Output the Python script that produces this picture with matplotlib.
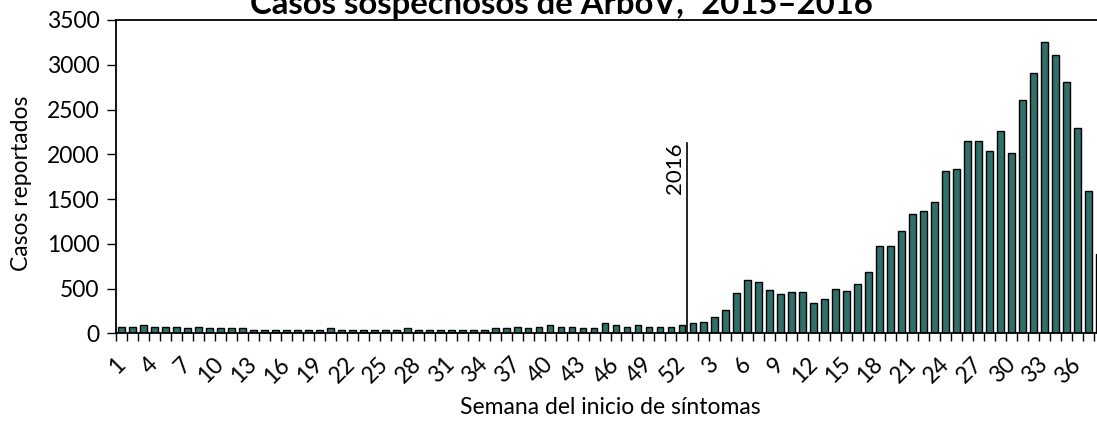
import matplotlib
matplotlib.use('Agg')
import matplotlib.pyplot as plt

# ---- data ----
weeks_2015 = list(range(1, 53))
weeks_2016 = list(range(1, 39))
cases_2015 = [75, 75, 95, 75, 75, 75, 55, 75, 55, 55, 55, 55,
              37, 37, 37, 37, 37, 37, 37, 55, 37, 37, 37, 37, 37, 37,
              55, 37, 37, 37, 37, 37, 37, 37, 55, 55, 75, 55, 75, 90,
              75, 75, 55, 55, 110, 90, 75, 90, 75, 75, 75, 90]
cases_2016 = [112, 130, 186, 261, 447, 592, 573, 480, 443, 461,
              461, 335, 387, 497, 478, 553, 683, 979, 979, 1147,
              1333, 1370, 1463, 1813, 1832, 2145, 2145, 2036, 2256, 2018,
              2610, 2907, 3258, 3109, 2811, 2297, 1590, 886]
year_marker_label = "2016"
year_marker_top = 2130
title = "Casos sospechosos de ArboV,ᵃ 2015–2016"
ylabel = "Casos reportados"
xlabel = "Semana del inicio de síntomas"

W, H = 1097, 422
FONT = ['Lato', 'DejaVu Sans']
plt.rcParams['font.family'] = FONT

values = cases_2015 + cases_2016
n = len(values)
xs = list(range(n))

fig = plt.figure(figsize=(W / 100, H / 100), dpi=100)
ax_left, ax_right, ax_top, ax_bottom = 116, 1105, 20, 333.3
ax = fig.add_axes([ax_left / W, 1 - ax_bottom / H, (ax_right - ax_left) / W, (ax_bottom - ax_top) / H])

ax.bar(xs, values, width=0.62, color='#31706A', edgecolor='black', linewidth=1.0, zorder=2)
ax.set_xlim(-0.5, n - 0.5)
ax.set_ylim(0, 3500)

# y axis
ax.set_yticks(range(0, 3501, 500))
ax.tick_params(axis='y', direction='out', length=6.5, width=1.0, pad=5.5, labelsize=16.5)

# x axis: boundary ticks (major) + labels at centers (minor)
ax.set_xticks([i - 0.5 for i in range(n + 1)])
ax.set_xticklabels([])
ax.tick_params(axis='x', which='major', direction='out', length=5.8, width=1.0)

lab_pos, lab_txt = [], []
for i, w in enumerate(weeks_2015):
    if (w - 1) % 3 == 0:
        lab_pos.append(i)
        lab_txt.append(str(w))
for j, w in enumerate(weeks_2016):
    if w % 3 == 0:
        lab_pos.append(len(weeks_2015) + j)
        lab_txt.append(str(w))
ax.set_xticks(lab_pos, lab_txt, minor=True)
ax.tick_params(axis='x', which='minor', length=0, pad=20, labelsize=16.5)
for lab in ax.get_xticklabels(minor=True):
    lab.set_rotation(45)
    lab.set_rotation_mode('anchor')
    lab.set_ha('right')
    lab.set_va('center')

for s in ['left', 'bottom', 'top']:
    ax.spines[s].set_linewidth(1.3)
ax.spines['right'].set_visible(False)

# year marker
bx = len(weeks_2015) - 0.5
ax.plot([bx, bx], [0, year_marker_top], color='black', linewidth=1.2, zorder=3)
ax.text(bx - 0.25, year_marker_top, year_marker_label, rotation=90, ha='right', va='top',
        fontsize=16, zorder=3)

# labels
fig.text(22 / W, 1 - 183 / H, ylabel, rotation=90, ha='center', va='center', fontsize=16.5)
fig.text(610 / W, 1 - 408 / H, xlabel, ha='center', va='center', fontsize=16.5)

# title, fitted to reference width
t = fig.text(561 / W, 1 - 14 / H, title, ha='center', va='baseline', fontsize=20,
             fontweight='bold', family=FONT)
r = fig.canvas.get_renderer()
wpx = t.get_window_extent(r).width
t.set_fontsize(20 * 623 / wpx)

fig.savefig('out.png', dpi=100)
